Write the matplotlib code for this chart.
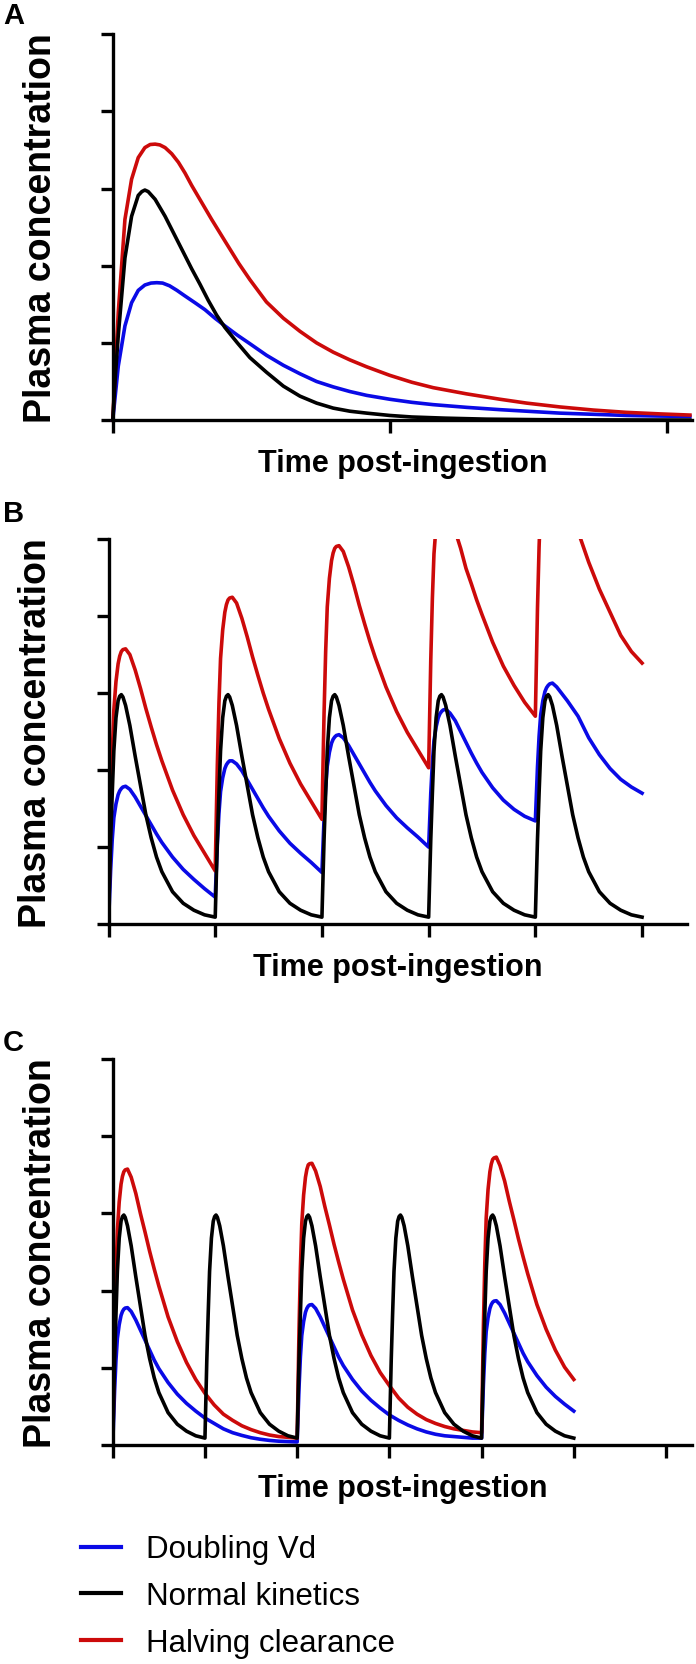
import matplotlib
matplotlib.use("Agg")
import matplotlib.pyplot as plt
from matplotlib.lines import Line2D

plt.rcParams['font.family'] = ['Liberation Sans', 'DejaVu Sans']

BLUE = '#0a0ae6'
BLACK = '#000000'
RED = '#cc0a0a'

# ---- panel A: single dose (time in dosing intervals, concentration in axis units)
a_time_red = [0, 0.01, 0.02, 0.044, 0.068, 0.092, 0.116, 0.135, 0.153, 0.17,
              0.189, 0.213, 0.237, 0.261, 0.285, 0.321, 0.357, 0.405, 0.455, 0.495,
              0.555, 0.616, 0.676, 0.736, 0.796, 0.856, 0.917, 1.0, 1.08, 1.157,
              1.277, 1.398, 1.494, 1.615, 1.735, 1.855, 1.976, 2.084]
a_red = [0, 0.7, 1.4, 2.6, 3.12, 3.40, 3.53, 3.57, 3.575, 3.565,
         3.53, 3.45, 3.34, 3.2, 3.04, 2.82, 2.60, 2.32, 2.03, 1.82,
         1.53, 1.32, 1.15, 1.0, 0.88, 0.78, 0.69, 0.58, 0.49, 0.42,
         0.34, 0.27, 0.22, 0.17, 0.13, 0.10, 0.08, 0.065]

a_time_blue = [0, 0.01, 0.02, 0.044, 0.068, 0.092, 0.116, 0.138, 0.159, 0.18,
               0.205, 0.232, 0.26, 0.297, 0.333, 0.369, 0.405, 0.45, 0.495, 0.555,
               0.616, 0.676, 0.736, 0.796, 0.856, 0.917, 1.0, 1.08, 1.157, 1.277,
               1.398, 1.494, 1.615, 1.735, 1.855, 1.976, 2.084]
a_blue = [0, 0.35, 0.7, 1.22, 1.52, 1.68, 1.75, 1.775, 1.78, 1.775,
          1.74, 1.68, 1.61, 1.52, 1.43, 1.32, 1.22, 1.1, 0.99, 0.84,
          0.71, 0.6, 0.5, 0.43, 0.37, 0.32, 0.27, 0.23, 0.2, 0.165,
          0.135, 0.115, 0.09, 0.075, 0.06, 0.052, 0.047]

a_time_black = [0, 0.01, 0.02, 0.044, 0.068, 0.092, 0.105, 0.116, 0.128, 0.153,
                0.189, 0.213, 0.237, 0.261, 0.285, 0.315, 0.345, 0.375, 0.405, 0.45,
                0.495, 0.555, 0.616, 0.676, 0.736, 0.796, 0.856, 0.917, 1.0, 1.08,
                1.2, 1.35, 1.55, 1.8, 2.084]
a_black = [0, 0.6, 1.1, 2.1, 2.64, 2.91, 2.96, 2.98, 2.96, 2.86,
           2.64, 2.47, 2.30, 2.13, 1.96, 1.76, 1.55, 1.36, 1.20, 1.0,
           0.81, 0.62, 0.44, 0.31, 0.22, 0.155, 0.115, 0.09, 0.06, 0.04,
           0.025, 0.012, 0.005, 0.002, 0.0]

# sampling times inside one dosing interval (and two intervals for panel C)
tau = [0.01, 0.02, 0.035, 0.05, 0.07, 0.09, 0.105, 0.12, 0.135, 0.16,
       0.2, 0.25, 0.3, 0.35, 0.4, 0.45, 0.5, 0.6, 0.7, 0.8, 0.9, 1.0]
tau2 = tau + [1.1, 1.2, 1.3, 1.4, 1.5, 1.6, 1.7, 1.8, 1.9, 2.0]

# normal kinetics after each dose (same shape every interval)
black_cycle = [0.6, 1.1, 1.7, 2.25, 2.68, 2.9, 2.96, 2.98, 2.95, 2.84,
               2.58, 2.18, 1.8, 1.42, 1.12, 0.87, 0.68, 0.42, 0.27, 0.18, 0.12, 0.09]

# ---- panel B: dose every interval
b_doses = [0, 1, 2, 3, 4]
b_red = [
    [0.7, 1.4, 2.2, 2.78, 3.15, 3.38, 3.48, 3.54, 3.565, 3.575,
     3.5, 3.3, 3.06, 2.8, 2.56, 2.33, 2.12, 1.74, 1.42, 1.15, 0.92, 0.69],
    [1.39, 2.07, 2.87, 3.45, 3.82, 4.05, 4.15, 4.21, 4.235, 4.245,
     4.17, 3.97, 3.73, 3.47, 3.23, 3.0, 2.79, 2.41, 2.09, 1.82, 1.59, 1.36],
    [2.06, 2.74, 3.54, 4.12, 4.49, 4.72, 4.82, 4.88, 4.905, 4.915,
     4.84, 4.64, 4.4, 4.14, 3.9, 3.67, 3.46, 3.08, 2.76, 2.49, 2.26, 2.03],
    [2.73, 3.43, 4.23, 4.81, 5.18, 5.41, 5.51, 5.57, 5.59, 5.6,
     5.45, 5.1, 4.88, 4.62, 4.42, 4.21, 4.02, 3.66, 3.35, 3.1, 2.88, 2.70],
    [3.4, 4.1, 4.9, 5.48, 5.85, 6.08, 6.18, 6.24, 6.26, 6.27,
     6.15, 5.9, 5.6, 5.35, 5.1, 4.9, 4.7, 4.35, 4.05, 3.75, 3.54, 3.39],
]
b_blue = [
    [0.35, 0.7, 1.1, 1.38, 1.56, 1.68, 1.73, 1.76, 1.78, 1.79,
     1.75, 1.65, 1.53, 1.41, 1.29, 1.17, 1.06, 0.87, 0.71, 0.58, 0.46, 0.35],
    [0.7, 1.04, 1.44, 1.72, 1.9, 2.02, 2.07, 2.1, 2.12, 2.12,
     2.08, 1.99, 1.87, 1.75, 1.63, 1.51, 1.4, 1.21, 1.05, 0.92, 0.8, 0.67],
    [1.02, 1.37, 1.77, 2.05, 2.23, 2.35, 2.4, 2.43, 2.45, 2.46,
     2.42, 2.32, 2.2, 2.08, 1.96, 1.84, 1.73, 1.54, 1.38, 1.25, 1.13, 1.0],
    [1.35, 1.7, 2.1, 2.38, 2.56, 2.68, 2.73, 2.76, 2.78, 2.79,
     2.74, 2.64, 2.5, 2.36, 2.22, 2.09, 1.97, 1.77, 1.61, 1.49, 1.4, 1.34],
    [1.69, 2.04, 2.44, 2.72, 2.9, 3.02, 3.07, 3.1, 3.12, 3.13,
     3.08, 2.99, 2.9, 2.8, 2.7, 2.56, 2.42, 2.2, 2.02, 1.88, 1.78, 1.70],
]

# ---- panel C: normal dose every interval, altered kinetics dosed every 2 intervals
c_black_doses = [0, 1, 2, 3, 4]
c_doses = [0, 2, 4]
c_red = [
    [0.7, 1.4, 2.2, 2.78, 3.15, 3.38, 3.48, 3.54, 3.565, 3.575,
     3.47, 3.26, 3.0, 2.76, 2.51, 2.28, 2.06, 1.66, 1.34, 1.07, 0.85, 0.67,
     0.52, 0.40, 0.32, 0.25, 0.2, 0.16, 0.13, 0.11, 0.1, 0.09],
    [0.79, 1.49, 2.29, 2.87, 3.24, 3.47, 3.57, 3.63, 3.645, 3.65,
     3.55, 3.35, 3.09, 2.85, 2.6, 2.37, 2.15, 1.75, 1.43, 1.16, 0.94, 0.77,
     0.61, 0.49, 0.4, 0.33, 0.28, 0.24, 0.21, 0.19, 0.17, 0.16],
    [0.86, 1.56, 2.36, 2.94, 3.31, 3.54, 3.64, 3.7, 3.72, 3.73,
     3.62, 3.42, 3.16, 2.92, 2.67, 2.44, 2.22, 1.82, 1.5, 1.23, 1.01, 0.85],
]
c_blue = [
    [0.35, 0.7, 1.1, 1.38, 1.56, 1.68, 1.73, 1.76, 1.775, 1.78,
     1.73, 1.62, 1.49, 1.36, 1.23, 1.1, 0.99, 0.81, 0.66, 0.54, 0.44, 0.35,
     0.28, 0.21, 0.16, 0.125, 0.095, 0.075, 0.06, 0.05, 0.045, 0.04],
    [0.39, 0.74, 1.14, 1.42, 1.6, 1.72, 1.77, 1.8, 1.815, 1.82,
     1.77, 1.66, 1.53, 1.4, 1.27, 1.14, 1.03, 0.85, 0.7, 0.58, 0.48, 0.39,
     0.32, 0.26, 0.21, 0.17, 0.14, 0.12, 0.11, 0.1, 0.09, 0.09],
    [0.44, 0.79, 1.19, 1.47, 1.65, 1.77, 1.82, 1.85, 1.865, 1.87,
     1.82, 1.71, 1.58, 1.45, 1.32, 1.19, 1.08, 0.9, 0.75, 0.63, 0.53, 0.44],
]


def series(doses, cycles, steps):
    # join the per-dose readings into one curve starting from zero
    t, y = [0.0], [0.0]
    for d, vals in zip(doses, cycles):
        t += [d + s for s in steps[:len(vals)]]
        y += list(vals)
    return t, y


def style(ax, xmax, nticks):
    ax.set_xlim(0, xmax)
    ax.set_ylim(0, 5)
    ax.spines[['top', 'right']].set_visible(False)
    for s in ['left', 'bottom']:
        ax.spines[s].set_linewidth(2.4)
    ax.set_xticks(range(nticks))
    ax.set_yticks(range(6))
    ax.tick_params(length=9, width=2.4, labelbottom=False, labelleft=False)
    ax.set_xlabel('Time post-ingestion', fontsize=22, fontweight='bold', labelpad=11)
    ax.set_ylabel('Plasma concentration', fontsize=27, fontweight='bold', labelpad=30)


fig = plt.figure(figsize=(6.96, 16.65), dpi=100)
lw = 2.6

axA = fig.add_axes([0.162, 0.7471, 0.832, 0.2318])
axA.plot(a_time_blue, a_blue, color=BLUE, lw=lw, clip_on=False)
axA.plot(a_time_red, a_red, color=RED, lw=lw, clip_on=False)
axA.plot(a_time_black, a_black, color=BLACK, lw=lw, clip_on=False)
style(axA, 2.091, 3)

axB = fig.add_axes([0.1559, 0.4444, 0.831, 0.2312])
tb, yb = series(b_doses, b_blue, tau)
tr, yr = series(b_doses, b_red, tau)
tk, yk = series(b_doses, [black_cycle] * len(b_doses), tau)
axB.plot(tb, yb, color=BLUE, lw=lw)
axB.plot(tr, yr, color=RED, lw=lw)
axB.plot(tk, yk, color=BLACK, lw=lw)
style(axB, 5.42, 6)

axC = fig.add_axes([0.162, 0.1315, 0.832, 0.2318])
tb, yb = series(c_doses, c_blue, tau2)
tr, yr = series(c_doses, c_red, tau2)
tk, yk = series(c_black_doses, [black_cycle] * len(c_black_doses), tau)
axC.plot(tb, yb, color=BLUE, lw=lw)
axC.plot(tr, yr, color=RED, lw=lw)
axC.plot(tk, yk, color=BLACK, lw=lw)
style(axC, 6.28, 7)

for letter, ytop in [('A', 0.999), ('B', 0.700), ('C', 0.382)]:
    fig.text(0.004, ytop, letter, fontsize=21, fontweight='bold', va='top', ha='left')

handles = [Line2D([], [], color=c, lw=3) for c in (BLUE, BLACK, RED)]
fig.legend(handles, ['Doubling Vd', 'Normal kinetics', 'Halving clearance'],
           loc='upper left', bbox_to_anchor=(0.116, 0.0778), frameon=False, fontsize=22.5,
           handlelength=1.3, handletextpad=0.8, labelspacing=0.54, borderpad=0, borderaxespad=0)

fig.savefig('out.png', dpi=100)
